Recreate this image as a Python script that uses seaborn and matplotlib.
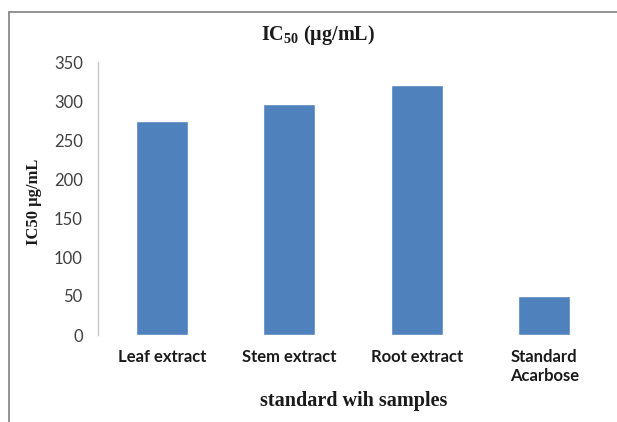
import matplotlib
matplotlib.use("Agg")
import matplotlib.pyplot as plt
import seaborn as sns
import pandas as pd

categories = ["Leaf extract", "Stem extract", "Root extract", "Standard\nAcarbose"]
ic50_values = [274, 296, 320, 50]
y_ticks = [0, 50, 100, 150, 200, 250, 300, 350]

sns.set_theme(style="white")
plt.rcParams["mathtext.fontset"] = "custom"
plt.rcParams["mathtext.rm"] = "Liberation Serif:bold"
plt.rcParams["mathtext.bf"] = "Liberation Serif:bold"

df = pd.DataFrame({"sample": categories, "ic50": ic50_values})

fig = plt.figure(figsize=(6.17, 4.22), dpi=100)
W, H = 617, 422
ax = fig.add_axes([98 / W, 1 - 335 / H, (608 - 98) / W, (335 - 62) / H])

sns.barplot(data=df, x="sample", y="ic50", color="#4F81BD", saturation=1,
            width=0.41, ax=ax)

ax.set_ylim(0, 350)
ax.set_yticks(y_ticks)
ax.set_yticklabels([str(t) for t in y_ticks], fontfamily="Lato", fontsize=12, color="#404040")
ax.set_xticklabels(categories, fontfamily="Lato", fontsize=12, fontweight="bold",
                   color="#1a1a1a", linespacing=1.25)
ax.tick_params(axis="y", length=0, pad=11)
ax.tick_params(axis="x", length=0, pad=10)
ax.set_xlabel("")
ax.set_ylabel("")
for side in ["top", "right", "bottom"]:
    ax.spines[side].set_visible(False)
ax.spines["left"].set_color("#c8c8c8")
ax.spines["left"].set_linewidth(1.0)

fig.text(318 / W, 1 - 35 / H, r"IC$_{\mathrm{50}}$ (µg/mL)", ha="center", va="center",
         fontfamily="Liberation Serif", fontweight="bold", fontsize=14.5, color="#1a1a1a")
fig.text(354 / W, 1 - 401 / H, "standard wih samples", ha="center", va="center",
         fontfamily="Liberation Serif", fontweight="bold", fontsize=14.5, color="#1a1a1a")
fig.text(34 / W, 1 - 202 / H, "IC50 µg/mL", ha="center", va="center", rotation=90,
         fontfamily="Liberation Serif", fontweight="bold", fontsize=12, color="#1a1a1a")

# outer frame (left and top borders)
fig.add_artist(plt.Line2D([9 / W, 9 / W], [0, 1 - 12 / H], transform=fig.transFigure,
                          color="#808080", linewidth=1.2))
fig.add_artist(plt.Line2D([9 / W, 1], [1 - 12 / H, 1 - 12 / H], transform=fig.transFigure,
                          color="#808080", linewidth=1.2))

fig.savefig("out.png", dpi=100)
